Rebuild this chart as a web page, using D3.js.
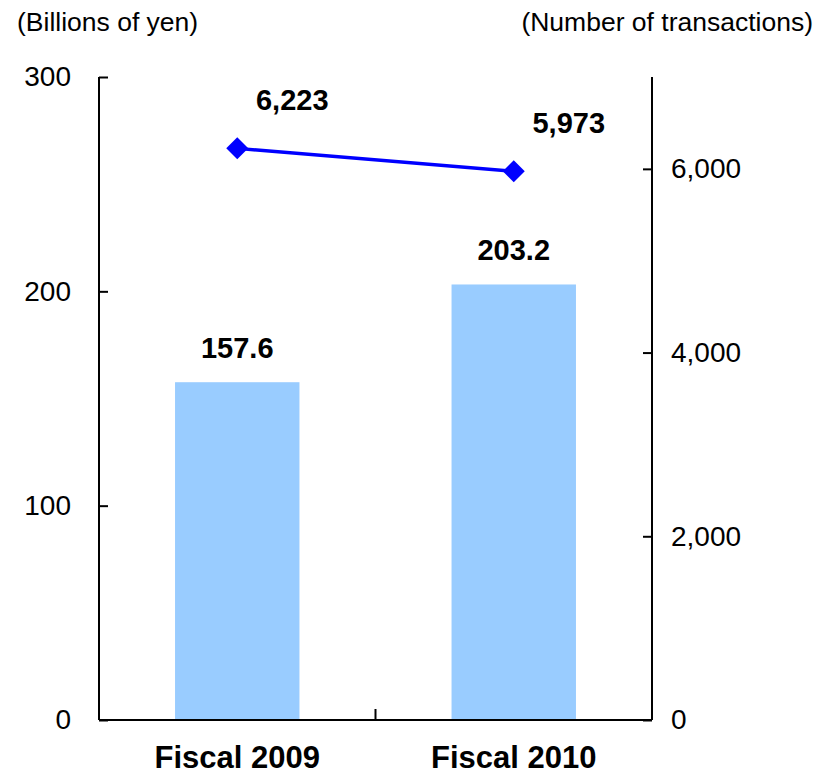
<!DOCTYPE html>
<html>
<head>
<meta charset="utf-8">
<script src="https://cdn.jsdelivr.net/npm/d3@7"></script>
<style>
  html, body { margin: 0; padding: 0; background: #fff; }
  svg { display: block; font-family: "Liberation Sans", Arial, sans-serif; }
</style>
</head>
<body>
<svg id="chart" width="816" height="775"></svg>
<script>
// Fiscal-year categories with amounts (bars, left axis) and counts (line, right axis)
const categories = ["Fiscal 2009", "Fiscal 2010"];
const amounts = [157.6, 203.2];          // billions of yen
const transactions = [6223, 5973];       // number of transactions
const leftTicks = [0, 100, 200, 300];
const rightTicks = [0, 2000, 4000, 6000];
const leftUnit = "(Billions of yen)";
const rightUnit = "(Number of transactions)";

const svg = d3.select("#chart");
const x0 = 99, x1 = 652, yTop = 77, yBot = 720;

const x = d3.scaleBand().domain(categories).range([x0, x1]).paddingInner(0.55).paddingOuter(0.275);
const xc = d3.scaleBand().domain(categories).range([x0, x1]);
const yL = d3.scaleLinear().domain([0, 300]).range([yBot, yTop]);
const yR = d3.scaleLinear().domain([0, 7000]).range([yBot, yTop]);

// Bars
svg.append("g").selectAll("rect").data(amounts).join("rect")
  .attr("x", (d, i) => x(categories[i]))
  .attr("width", x.bandwidth())
  .attr("y", d => yL(d))
  .attr("height", d => yBot - yL(d))
  .attr("fill", "#99ccff");

// Bar value labels
svg.append("g").selectAll("text").data(amounts).join("text")
  .attr("x", (d, i) => xc(categories[i]) + xc.bandwidth() / 2)
  .attr("y", d => yL(d) - 24)
  .attr("text-anchor", "middle")
  .attr("font-weight", "bold")
  .attr("font-size", 29)
  .text(d => d3.format(".1f")(d));

// Axes
const fontSize = 28;
const axisL = svg.append("g").attr("transform", `translate(${x0},0)`)
  .call(d3.axisLeft(yL).tickValues(leftTicks).tickSize(-9).tickPadding(28).tickFormat(d3.format("d")));
const axisR = svg.append("g").attr("transform", `translate(${x1},0)`)
  .call(d3.axisRight(yR).tickValues(rightTicks).tickSize(-9).tickPadding(28).tickFormat(d3.format(",")));
const axisB = svg.append("g").attr("transform", `translate(0,${yBot})`)
  .call(d3.axisBottom(xc).tickSize(0).tickPadding(26));

[axisL, axisR, axisB].forEach(g => {
  g.select(".domain").attr("stroke", "#000").attr("stroke-width", 2);
  g.selectAll(".tick line").attr("stroke", "#000").attr("stroke-width", 2);
  g.selectAll(".tick text").attr("fill", "#000").attr("font-size", fontSize)
    .attr("font-family", "'Liberation Sans', Arial, sans-serif");
});
axisL.select(".domain").attr("d", `M0,${yTop}V${yBot}`);
axisR.select(".domain").attr("d", `M0,${yTop}V${yBot}`);
axisL.selectAll(".tick text").attr("x", -28);
axisR.selectAll(".tick text").attr("x", 19);
axisB.select(".domain").attr("d", `M${x0},0H${x1}`);
axisB.selectAll(".tick text").attr("font-weight", "bold").attr("font-size", 31).attr("dy", "0.71em");

// Category divider ticks on the bottom axis
const dividers = d3.range(categories.length + 1).map(i => i === categories.length ? x1 : xc(categories[i]));
axisB.selectAll("line.div").data(dividers).join("line").attr("class", "div")
  .attr("x1", d => d).attr("x2", d => d).attr("y1", 0).attr("y2", -11)
  .attr("stroke", "#000").attr("stroke-width", 2);

// Transactions line
const cx = (d, i) => xc(categories[i]) + xc.bandwidth() / 2;
svg.append("path").datum(transactions)
  .attr("d", d3.line().x(cx).y(d => yR(d)))
  .attr("fill", "none").attr("stroke", "#0000ff").attr("stroke-width", 3.5);

svg.append("g").selectAll("path").data(transactions).join("path")
  .attr("transform", (d, i) => `translate(${cx(d, i)},${yR(d)})`)
  .attr("d", "M0,-11L11,0L0,11L-11,0Z")
  .attr("fill", "#0000ff");

svg.append("g").selectAll("text").data(transactions).join("text")
  .attr("x", (d, i) => cx(d, i) + 55)
  .attr("y", d => yR(d) - 38)
  .attr("text-anchor", "middle")
  .attr("font-weight", "bold")
  .attr("font-size", 29)
  .text(d => d3.format(",")(d));

// Unit captions
svg.append("text").attr("x", 17).attr("y", 31).attr("font-size", 26.5).text(leftUnit);
svg.append("text").attr("x", 813).attr("y", 31).attr("text-anchor", "end").attr("font-size", 26.5).text(rightUnit);
</script>
</body>
</html>
